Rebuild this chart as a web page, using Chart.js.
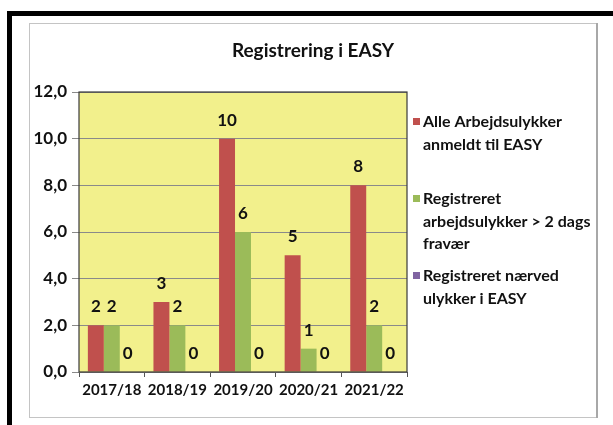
<!DOCTYPE html>
<html>
<head>
<meta charset="utf-8">
<script src="https://cdn.jsdelivr.net/npm/chart.js@4"></script>
<style>
  html, body { margin: 0; padding: 0; background: #fff; overflow: hidden; }
  canvas { display: block; }
</style>
</head>
<body>
<canvas id="chart" width="613" height="425"></canvas>
<script>
// ─── Data ────────────────────────────────────────────────────────────────────
const SEASONS = ['2017/18', '2018/19', '2019/20', '2020/21', '2021/22'];
const ALLE_ANMELDT = [2, 3, 10, 5, 8];
const FRAVAER_OVER_2 = [2, 2, 6, 1, 2];
const NAERVED = [0, 0, 0, 0, 0];
const Y_TICKS = [0, 2, 4, 6, 8, 10, 12];

const SERIES_LABELS = [
  ['Alle Arbejdsulykker', 'anmeldt til EASY'],
  ['Registreret', 'arbejdsulykker > 2 dags', 'fravær'],
  ['Registreret nærved', 'ulykker i EASY'],
];

const COLORS = ['#C0504D', '#9BBB59', '#8064A2'];
const FONT = 'Lato, "Open Sans", sans-serif';

// ─── Plugins ─────────────────────────────────────────────────────────────────

// page frames (black outer corner, grey chart frame) + yellow plot area
const frames = {
  id: 'frames',
  beforeDraw(chart) {
    const { ctx, chartArea: a } = chart;
    ctx.save();
    ctx.fillStyle = '#fff';
    ctx.fillRect(0, 0, chart.width, chart.height);
    ctx.fillStyle = '#000';
    ctx.fillRect(7, 11, 606, 5);
    ctx.fillRect(7, 11, 5, 414);
    ctx.strokeStyle = '#c4c4c4';
    ctx.lineWidth = 1;
    ctx.strokeRect(29.5, 23.5, 567, 394);
    ctx.strokeStyle = '#a8a8a8';
    ctx.lineWidth = 2;
    ctx.beginPath();
    ctx.moveTo(597, 23);
    ctx.lineTo(597, 418);
    ctx.stroke();
    ctx.fillStyle = '#F2F08C';
    ctx.fillRect(a.left, a.top, a.right - a.left, a.bottom - a.top);
    ctx.restore();
  },
  afterDraw(chart) {
    const { ctx, chartArea: a } = chart;
    ctx.save();
    ctx.strokeStyle = '#3a3a3a';
    ctx.lineWidth = 1.2;
    ctx.strokeRect(a.left, a.top, a.right - a.left, a.bottom - a.top);
    ctx.restore();
  },
};

const valueLabels = {
  id: 'valueLabels',
  afterDatasetsDraw(chart) {
    const { ctx } = chart;
    ctx.save();
    ctx.font = `bold 17px ${FONT}`;
    ctx.fillStyle = '#111';
    ctx.textAlign = 'center';
    ctx.textBaseline = 'bottom';
    chart.data.datasets.forEach((ds, i) => {
      chart.getDatasetMeta(i).data.forEach((bar, j) => {
        ctx.fillText(String(ds.data[j]), bar.x, bar.y - 10);
      });
    });
    ctx.restore();
  },
};

const titleAndLegend = {
  id: 'titleAndLegend',
  afterDraw(chart) {
    const { ctx } = chart;
    ctx.save();
    ctx.fillStyle = '#111';
    ctx.textBaseline = 'middle';
    ctx.textAlign = 'center';
    ctx.font = `bold 19px ${FONT}`;
    ctx.fillText('Registrering i EASY', 313, 51);

    ctx.textAlign = 'left';
    ctx.font = `bold 16px ${FONT}`;
    const starts = [122, 199, 276];
    chart.data.datasets.forEach((ds, i) => {
      const y0 = starts[i];
      ctx.fillStyle = COLORS[i];
      ctx.fillRect(413, y0 - 4, 7, 7);
      ctx.fillStyle = '#111';
      ds.legendLines.forEach((line, k) => ctx.fillText(line, 423, y0 + k * 22.5));
    });
    ctx.restore();
  },
};

// ─── Chart ───────────────────────────────────────────────────────────────────

const datasets = [ALLE_ANMELDT, FRAVAER_OVER_2, NAERVED].map((values, i) => ({
  label: SERIES_LABELS[i].join(' '),
  legendLines: SERIES_LABELS[i],
  data: values,
  backgroundColor: COLORS[i],
  borderWidth: 0,
  categoryPercentage: 0.73,
  barPercentage: 1.0,
}));

new Chart(document.getElementById('chart'), {
  type: 'bar',
  data: { labels: SEASONS, datasets },
  plugins: [frames, valueLabels, titleAndLegend],
  options: {
    responsive: false,
    animation: false,
    layout: { padding: { left: 25, top: 92, right: 206, bottom: 25 } },
    plugins: { legend: { display: false }, tooltip: { enabled: false }, title: { display: false } },
    scales: {
      x: {
        afterFit: s => { s.height = 28; },
        grid: { display: true, drawOnChartArea: false, offset: true, color: '#555', tickLength: 5 },
        border: { display: false },
        ticks: {
          color: '#111',
          font: { family: FONT, size: 15, weight: 'bold' },
          padding: 4,
          maxRotation: 0,
          minRotation: 0,
          autoSkip: false,
        },
      },
      y: {
        min: 0,
        max: 12,
        afterFit: s => { s.width = 54; },
        afterBuildTicks: s => { s.ticks = Y_TICKS.map(v => ({ value: v })); },
        grid: { color: '#8a8a8a', lineWidth: 1, tickLength: 7 },
        border: { display: false },
        ticks: {
          color: '#111',
          font: { family: FONT, size: 17, weight: 'bold' },
          padding: 5,
          callback: v => v.toFixed(1).replace('.', ','),
        },
      },
    },
  },
});
</script>
</body>
</html>
